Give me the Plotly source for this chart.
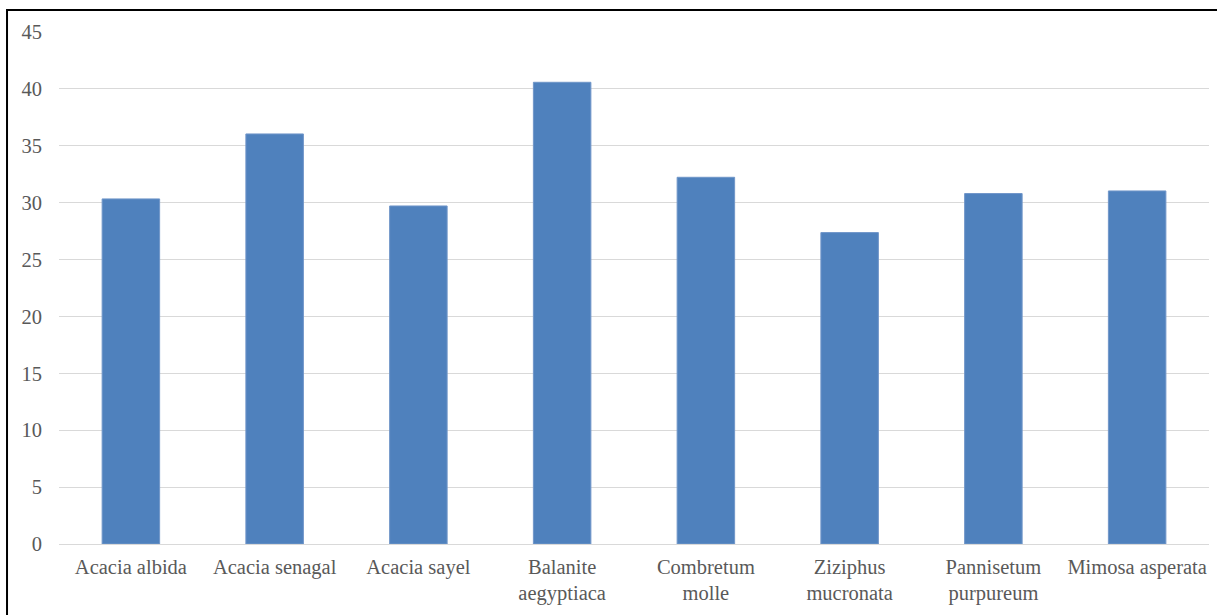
import plotly.graph_objects as go

# Species and measured values
species = [
    "Acacia albida",
    "Acacia senagal",
    "Acacia sayel",
    "Balanite<br>aegyptiaca",
    "Combretum<br>molle",
    "Ziziphus<br>mucronata",
    "Pannisetum<br>purpureum",
    "Mimosa asperata",
]
values = [30.33, 36.04, 29.71, 40.58, 32.23, 27.37, 30.80, 31.03]

y_ticks = [0, 5, 10, 15, 20, 25, 30, 35, 40, 45]

font_family = "Liberation Serif, Times New Roman, serif"
text_color = "#595959"

fig = go.Figure(
    go.Bar(
        x=species,
        y=values,
        marker=dict(color="#4F81BD", line=dict(color="#7096c9", width=1)),
        width=0.4,
    )
)

fig.update_layout(
    width=1217,
    height=615,
    margin=dict(l=59, r=8, t=32, b=71),
    paper_bgcolor="white",
    plot_bgcolor="white",
    showlegend=False,
    font=dict(family=font_family, size=20.5, color=text_color),
    xaxis=dict(
        showgrid=False,
        showline=False,
        ticks="",
        tickangle=0,
        ticklabelstandoff=8,
    ),
    yaxis=dict(
        range=[0, 45],
        tickvals=y_ticks,
        showgrid=True,
        gridcolor="#d9d9d9",
        gridwidth=1,
        zeroline=True,
        zerolinecolor="#d9d9d9",
        zerolinewidth=1,
        showline=False,
        ticks="",
        ticklabelstandoff=16,
    ),
    shapes=[
        dict(
            type="rect",
            xref="paper",
            yref="paper",
            x0=-0.0452,
            x1=1.1,
            y0=-0.3,
            y1=1.043,
            line=dict(color="#000000", width=2),
            fillcolor="rgba(0,0,0,0)",
            layer="above",
        )
    ],
)

fig.write_html("out.html")
